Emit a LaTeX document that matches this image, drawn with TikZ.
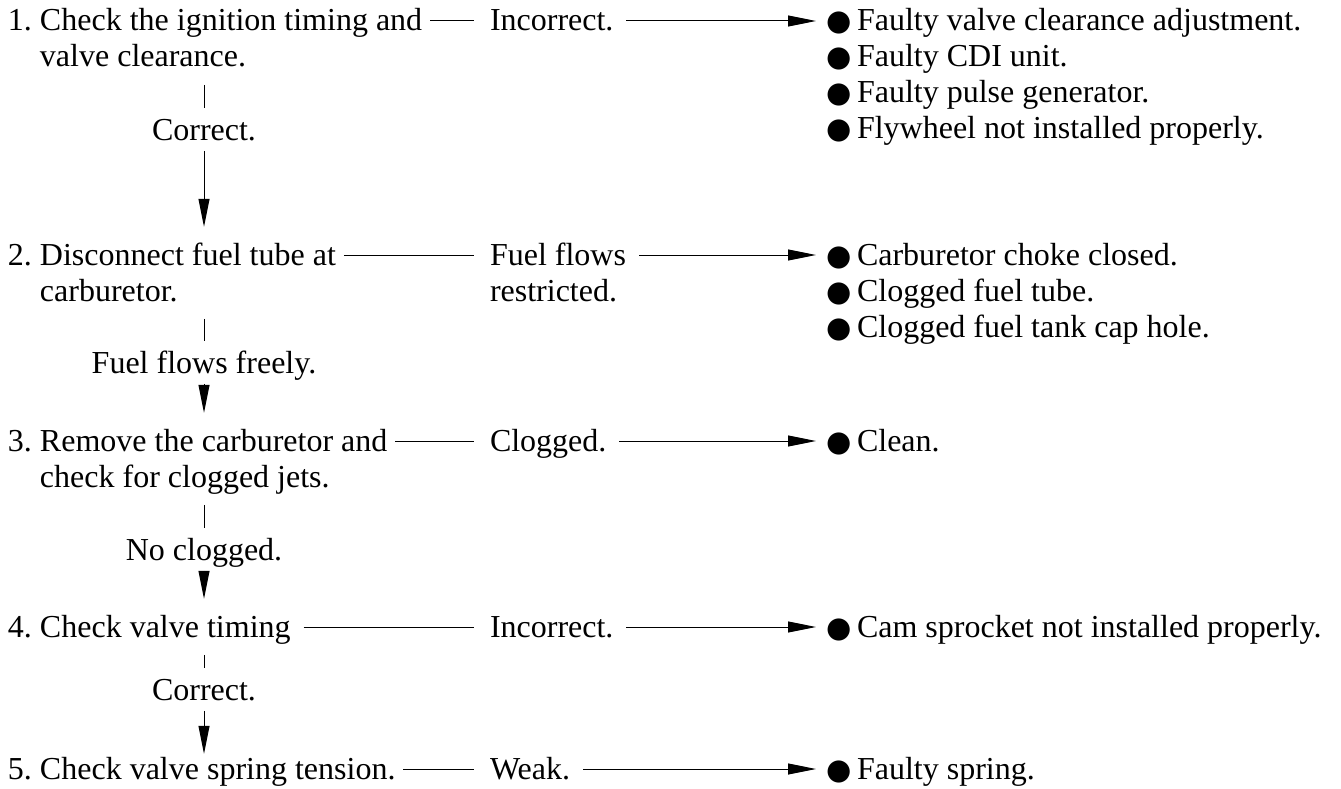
\documentclass[tikz,border=0pt]{standalone}
\usepackage{fontspec}
\setmainfont{Liberation Serif}
\newfontfamily\bulfont{DejaVu Sans}
\usetikzlibrary{arrows.meta}
\newcommand{\bul}{\strut\makebox[28pt][l]{\hspace{-3pt}\bulfont\fontsize{29pt}{36pt}\selectfont ●}}
\newcommand{\hang}[1]{\hphantom{#1\ }}
\begin{document}
\begin{tikzpicture}[x=1pt,y=1pt,
  every node/.style={inner sep=0pt, outer sep=0pt,
    font=\fontsize{32pt}{36pt}\selectfont, align=left, anchor=north west},
  lbl/.style={anchor=north, align=center},
  ln/.style={line width=1pt},
  arr/.style={line width=1pt, -{Triangle[length=28pt,width=11pt]}},
  tick/.style={ln, shorten <=7pt, shorten >=7pt},
  varr/.style={arr, shorten >=13pt},
  pre/.style={ln, shorten <=8pt, shorten >=16pt},
  harr/.style={arr, shorten <=13pt, shorten >=13pt}
]
\useasboundingbox (0,0) rectangle (1341,-789);

% steps
\node (s1) at (8,-5.8) {\strut 1.\ Check the ignition timing and\\\strut\hang{1.}valve clearance.};
\node (s2) at (8,-239.8) {\strut 2.\ Disconnect fuel tube at\\\strut\hang{2.}carburetor.};
\node (s3) at (8,-425.8) {\strut 3.\ Remove the carburetor and\\\strut\hang{3.}check for clogged jets.};
\node (s4) at (8,-611.8) {\strut 4.\ Check valve timing};
\node (s5) at (8,-753.8) {\strut 5.\ Check valve spring tension.};

% vertical labels
\node[lbl] (c1) at (204,-115) {\strut Correct.};
\node[lbl] (c2) at (204,-347.8) {\strut Fuel flows freely.};
\node[lbl] (c3) at (204,-534.8) {\strut No clogged.};
\node[lbl] (c4) at (204,-674.8) {\strut Correct.};

% middle labels
\node (m1) at (490,-5.8) {\strut Incorrect.};
\node (m2) at (490,-239.8) {\strut Fuel flows\\\strut restricted.};
\node (m3) at (490,-425.8) {\strut Clogged.};
\node (m4) at (490,-611.8) {\strut Incorrect.};
\node (m5) at (490,-753.8) {\strut Weak.};

% results
\node (b1) at (829,-5.8) {\bul Faulty valve clearance adjustment.\\\bul Faulty CDI unit.\\\bul Faulty pulse generator.\\\bul Flywheel not installed properly.};
\node (b2) at (829,-239.8) {\bul Carburetor choke closed.\\\bul Clogged fuel tube.\\\bul Clogged fuel tank cap hole.};
\node (b3) at (829,-425.8) {\bul Clean.};
\node (b4) at (829,-611.8) {\bul Cam sprocket not installed properly.};
\node (b5) at (829,-753.8) {\bul Faulty spring.};

% row levels
\coordinate (r1) at (0,-21);
\coordinate (r2) at (0,-255);
\coordinate (r3) at (0,-441);
\coordinate (r4) at (0,-627);
\coordinate (r5) at (0,-769);

% horizontal connectors
\draw[pre] (s1.east |- r1) -- (m1.west |- r1);
\draw[harr] (m1.east |- r1) -- (b1.west |- r1);
\draw[pre] (s2.east |- r2) -- (m2.west |- r2);
\draw[harr] (m2.east |- r2) -- (b2.west |- r2);
\draw[pre] (s3.east |- r3) -- (m3.west |- r3);
\draw[harr] (m3.east |- r3) -- (b3.west |- r3);
\draw[pre, shorten <=13pt] (s4.east |- r4) -- (m4.west |- r4);
\draw[harr] (m4.east |- r4) -- (b4.west |- r4);
\draw[pre] (s5.east |- r5) -- (m5.west |- r5);
\draw[harr] (m5.east |- r5) -- (b5.west |- r5);

% vertical connectors
\draw[tick] (c1.north |- s1.south) -- (c1.north);
\draw[varr] (c1.south) -- (c1.south |- s2.north);
\draw[tick] (c2.north |- s2.south) -- (c2.north);
\draw[varr] (c2.south) -- (c2.south |- s3.north);
\draw[tick] (c3.north |- s3.south) -- (c3.north);
\draw[varr] (c3.south) -- (c3.south |- s4.north);
\draw[tick] (c4.north |- s4.south) -- (c4.north);
\draw[varr, shorten >=0pt] (c4.south) -- (c4.south |- s5.north);
\end{tikzpicture}
\end{document}
